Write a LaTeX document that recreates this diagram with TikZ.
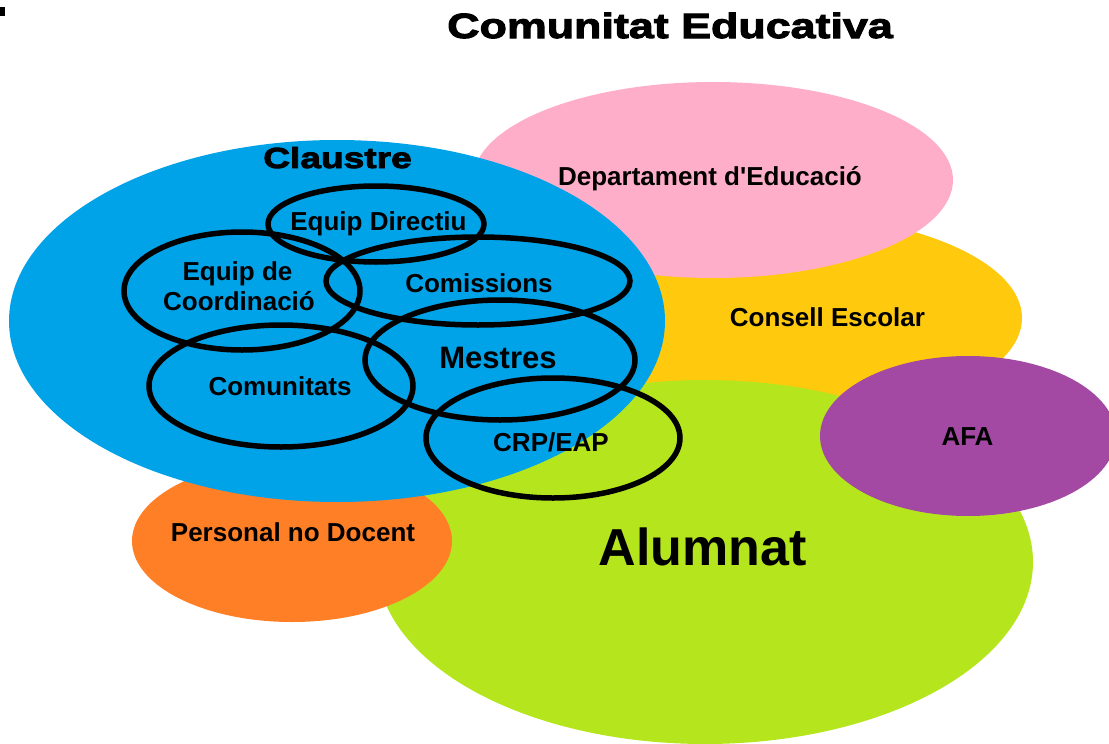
\documentclass[tikz,border=0pt]{standalone}
\usepackage{fontspec}
\setmainfont{Liberation Sans}[Ligatures=TeXOff]
\newfontface\heavyfont{Liberation Sans Bold}[FakeBold=3,FakeStretch=1.28]
\usetikzlibrary{shapes.geometric}
\definecolor{cblue}{HTML}{00A2E8}
\definecolor{cpink}{HTML}{FFAEC9}
\definecolor{cyellow}{HTML}{FFC90E}
\definecolor{cgreen}{HTML}{B5E61D}
\definecolor{corange}{HTML}{FF7F27}
\definecolor{cpurple}{HTML}{A349A4}
\begin{document}
\begin{tikzpicture}[x=1pt,y=-1pt,
  blob/.style={ellipse, inner sep=0pt, outer sep=0pt, draw=none},
  ring/.style={ellipse, inner sep=0pt, outer sep=0pt, draw=black, line width=5.5pt},
  lbl/.style={font=\fontsize{26}{30}\selectfont\bfseries, inner sep=0pt, anchor=base, text=black},
  heavy/.style={font=\fontsize{#1}{#1}\selectfont\heavyfont, inner sep=0pt, anchor=base, text=black}]
\useasboundingbox (0,0) rectangle (1109,744);
\fill[black] (0,7) rectangle (5,16);
% coloured areas
\node[blob, fill=cyellow, minimum width=504pt, minimum height=210pt] (consell) at (770,318) {};
\node[blob, fill=cpink, minimum width=480pt, minimum height=196pt] (dept) at (713,180) {};
\node[blob, fill=cgreen, minimum width=656pt, minimum height=364pt] (alumnat) at (705,562) {};
\node[blob, fill=corange, minimum width=320pt, minimum height=162pt] (personal) at (292,541) {};
\node[blob, fill=cpurple, minimum width=296pt, minimum height=160pt] (afa) at (968,436) {};
\node[blob, fill=cblue, minimum width=656pt, minimum height=362pt] (claustre) at (337,321) {};
% rings
\node[ring, minimum width=216pt, minimum height=76pt] (directiu) at (376,224) {};
\node[ring, minimum width=236pt, minimum height=118pt] (coord) at (242,291) {};
\node[ring, minimum width=304pt, minimum height=88pt] (comissions) at (478,281) {};
\node[ring, minimum width=270pt, minimum height=120pt] (mestres) at (500,360) {};
\node[ring, minimum width=264pt, minimum height=122pt] (comunitats) at (281,386) {};
\node[ring, minimum width=254pt, minimum height=120pt] (crp) at (553,438) {};
% labels
\node[heavy=35] (title) at (670,38) {Comunitat Educativa};
\node[heavy=29] (tclaustre) at (337.5,168) {Claustre};
\node[lbl] (tdept) at (710,185) {Departament d'Educació};
\node[lbl] (tdirectiu) at (378.5,230) {Equip Directiu};
\node[lbl] (tcoord1) at (237.5,280) {Equip de};
\node[lbl] (tcoord2) at (239,310) {Coordinació};
\node[lbl] (tcomissions) at (479,292) {Comissions};
\node[lbl, font=\fontsize{31}{34}\selectfont\bfseries] (tmestres) at (498,368) {Mestres};
\node[lbl] (tcomunitats) at (280,395) {Comunitats};
\node[lbl] (tcrp) at (551,451) {CRP/EAP};
\node[lbl] (tconsell) at (827.5,326) {Consell Escolar};
\node[lbl] (tafa) at (967.5,445) {AFA};
\node[lbl] (tpersonal) at (293,541) {Personal no Docent};
\node[lbl, font=\fontsize{52}{56}\selectfont\bfseries] (talumnat) at (702.5,565) {Alumnat};
\end{tikzpicture}
\end{document}
